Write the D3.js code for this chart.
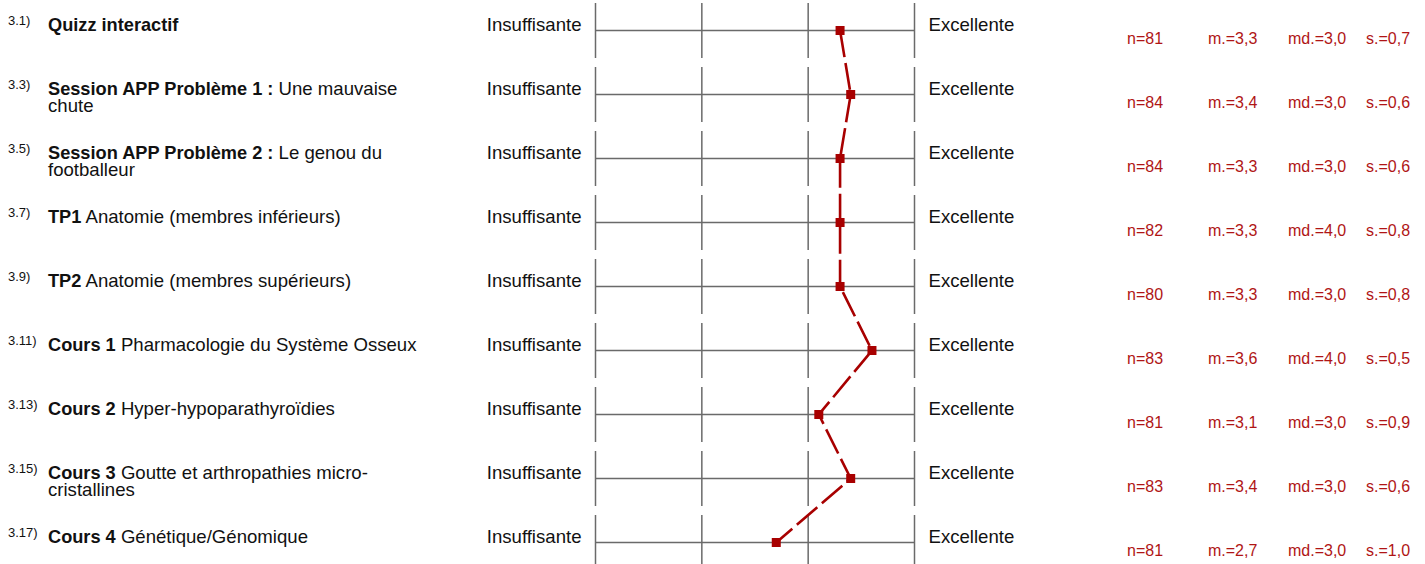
<!DOCTYPE html>
<html>
<head>
<meta charset="utf-8">
<script src="https://cdn.jsdelivr.net/npm/d3@7"></script>
<style>
  html, body { margin: 0; padding: 0; background: #fff; }
  svg { display: block; font-family: "Liberation Sans", Arial, sans-serif; }
</style>
</head>
<body>
<svg id="chart" width="1425" height="564"></svg>
<script>
// Question numbers
const codes = ["3.1)", "3.3)", "3.5)", "3.7)", "3.9)", "3.11)", "3.13)", "3.15)", "3.17)"];
// Bold lead of each item
const boldParts = ["Quizz interactif", "Session APP Problème 1 :", "Session APP Problème 2 :", "TP1", "TP2",
  "Cours 1", "Cours 2", "Cours 3", "Cours 4"];
// Remaining text, one entry per line
const restParts = [
  [""],
  [" Une mauvaise", "chute"],
  [" Le genou du", "footballeur"],
  [" Anatomie (membres inférieurs)"],
  [" Anatomie (membres supérieurs)"],
  [" Pharmacologie du Système Osseux"],
  [" Hyper-hypoparathyroïdies"],
  [" Goutte et arthropathies micro-", "cristallines"],
  [" Génétique/Génomique"]
];
// Statistics per item
const nValues = [81, 84, 84, 82, 80, 83, 81, 83, 81];
const means = [3.3, 3.4, 3.3, 3.3, 3.3, 3.6, 3.1, 3.4, 2.7];
const medians = [3.0, 3.0, 3.0, 4.0, 3.0, 4.0, 3.0, 3.0, 3.0];
const stdevs = [0.7, 0.6, 0.6, 0.8, 0.8, 0.5, 0.9, 0.6, 1.0];
// Rating scale
const scaleLevels = [1, 2, 3, 4];
const poleLabels = ["Insuffisante", "Excellente"];

const fmt = v => v.toFixed(1).replace(".", ",");
const red = "#a80000";
const grid = "#6a6a6a";

const svg = d3.select("#chart");
const idx = d3.range(codes.length);

const x = d3.scaleLinear().domain(d3.extent(scaleLevels)).range([595.5, 914.5]);
const y = d3.scalePoint().domain(idx).range([30.5, 542.5]);
const half = 27.5;

const rows = svg.selectAll("g.row").data(idx).join("g")
  .attr("class", "row")
  .attr("transform", i => `translate(0,${y(i)})`);

// Scale frame for each item
rows.append("line")
  .attr("x1", x(1)).attr("x2", x(4)).attr("y1", 0).attr("y2", 0)
  .attr("stroke", grid).attr("stroke-width", 1.5);
rows.selectAll("line.tick").data(scaleLevels).join("line")
  .attr("class", "tick")
  .attr("x1", d => x(d)).attr("x2", d => x(d))
  .attr("y1", -half).attr("y2", half)
  .attr("stroke", grid).attr("stroke-width", 1.5);

// Pole labels
rows.append("text")
  .attr("x", x(1) - 14).attr("y", 0).attr("text-anchor", "end")
  .attr("font-size", 18.6).attr("fill", "#111").text(poleLabels[0]);
rows.append("text")
  .attr("x", x(4) + 14).attr("y", 0)
  .attr("font-size", 18.6).attr("fill", "#111").text(poleLabels[1]);

// Item codes
rows.append("text")
  .attr("x", 8).attr("y", -6)
  .attr("font-size", 13).attr("fill", "#111").text(i => codes[i]);

// Item titles
rows.each(function(i) {
  const g = d3.select(this);
  const lines = restParts[i];
  lines.forEach((line, k) => {
    const t = g.append("text")
      .attr("x", 48).attr("y", k * 17)
      .attr("font-size", 18.6).attr("fill", "#111");
    if (k === 0) {
      t.append("tspan").attr("font-weight", "bold").attr("font-size", 18.2).text(boldParts[i]);
      if (line) t.append("tspan").text(line);
    } else {
      t.text(line);
    }
  });
});

// Statistics
const statCols = [
  { x: 1127, f: i => "n=" + nValues[i] },
  { x: 1208, f: i => "m.=" + fmt(means[i]) },
  { x: 1288, f: i => "md.=" + fmt(medians[i]) },
  { x: 1366, f: i => "s.=" + fmt(stdevs[i]) }
];
statCols.forEach(c => {
  rows.append("text")
    .attr("x", c.x).attr("y", 13)
    .attr("font-size", 16).attr("fill", "#b01515")
    .text(c.f);
});

// Profile line through the means
const line = d3.line().x(i => x(means[i])).y(i => y(i));
svg.append("path")
  .attr("d", line(idx))
  .attr("fill", "none")
  .attr("stroke", red)
  .attr("stroke-width", 2.6)
  .attr("stroke-dasharray", "27,6");

const m = 9;
svg.selectAll("rect.mean").data(idx).join("rect")
  .attr("class", "mean")
  .attr("x", i => x(means[i]) - m / 2)
  .attr("y", i => y(i) - m / 2)
  .attr("width", m).attr("height", m)
  .attr("fill", red);
</script>
</body>
</html>
